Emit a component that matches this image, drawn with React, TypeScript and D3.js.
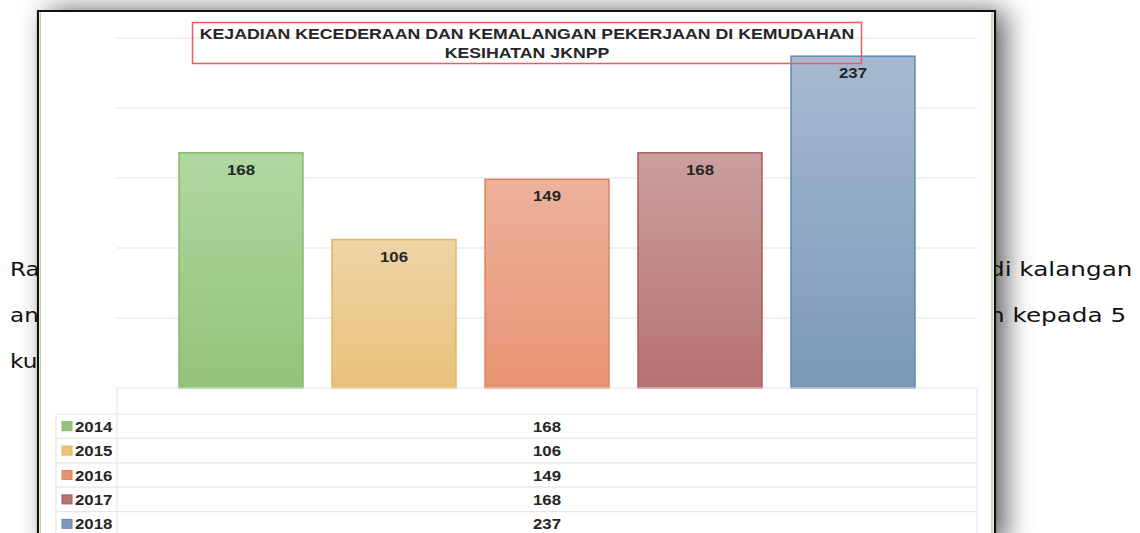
import React from "react";
import * as d3 from "d3";

// chart values
const years = ["2014", "2015", "2016", "2017", "2018"];
const cases = [168, 106, 149, 168, 237];
const yTicks = [0, 50, 100, 150, 200, 250];
const titleLines = [
  "KEJADIAN KECEDERAAN DAN KEMALANGAN PEKERJAAN DI KEMUDAHAN",
  "KESIHATAN JKNPP",
];
// colours per year: [top, bottom, stroke]
const barColors = [
  ["#b1d7a1", "#92c37b", "#84bb6a"],
  ["#eed4a6", "#e9c27b", "#e2b65c"],
  ["#edb29d", "#e89473", "#de835e"],
  ["#cc9f9f", "#b67272", "#a65b5b"],
  ["#a6b9d1", "#7c99b9", "#6487ae"],
];
// page text peeking out round the chart picture
const leftWords = ["Ra", "an", "ku"];
const rightWords = ["di kalangan", "n kepada 5"];

const W = 1140, H = 533;

function Stretch(props: { x: number; y: number; size: number; sx?: number; children: any; anchor?: string; fill?: string; family?: string; weight?: string }) {
  const { x, y, size, sx = 1.26, children, anchor = "middle", fill = "#262626", family = "'Liberation Sans', Arial, sans-serif", weight = "bold" } = props;
  return (
    <text transform={`translate(${x},${y}) scale(${sx},1)`} textAnchor={anchor}
      fontFamily={family} fontWeight={weight} fontSize={size} fill={fill}>
      {children}
    </text>
  );
}

export default function App() {
  const frame = { x: 38, y: 11, r: 995 };
  const plotL = 117, plotR = 977;

  const y = d3.scaleLinear().domain([0, 250]).range([388, 38]);
  const x = d3.scaleBand<string>().domain(years).range([164.5, 929.5]).paddingInner(0.19).paddingOuter(0.095);
  const row = d3.scaleBand<string>().domain(years).range([414, 536]);
  const docFont = "'DejaVu Sans', Verdana, sans-serif";

  return (
    <svg width={W} height={H} style={{ position: "absolute", left: 0, top: 0, background: "#fff" }}>
      <defs>
        <filter id="shadow" x="-20%" y="-20%" width="140%" height="140%">
          <feDropShadow dx={10} dy={0} stdDeviation={14} floodColor="#000" floodOpacity={0.65} />
        </filter>
        {barColors.map((c, i) => (
          <linearGradient key={i} id={`g${i}`} x1="0" y1="0" x2="0" y2="1">
            <stop offset="0%" stopColor={c[0]} />
            <stop offset="100%" stopColor={c[1]} />
          </linearGradient>
        ))}
      </defs>

      {/* drop shadow of the pasted chart */}
      <rect x={frame.x} y={frame.y} width={frame.r - frame.x} height={H} fill="#fff" filter="url(#shadow)" />

      {/* document text behind */}
      {leftWords.map((w, i) => (
        <Stretch key={w} x={10} y={276 + i * 46} size={19} sx={1.22} anchor="start" family={docFont} weight="normal" fill="#111">{w}</Stretch>
      ))}
      {rightWords.map((w, i) => (
        <Stretch key={w} x={989} y={276 + i * 46} size={19} sx={1.3} anchor="start" family={docFont} weight="normal" fill="#111">{w}</Stretch>
      ))}

      {/* chart picture */}
      <rect x={frame.x} y={frame.y} width={frame.r - frame.x} height={H} fill="#fff" />

      {yTicks.slice(1).map(t => (
        <line key={t} x1={plotL} x2={plotR} y1={y(t)} y2={y(t)} stroke="#ececec" strokeWidth={1.5} />
      ))}

      {cases.map((v, i) => {
        const bx = x(years[i])!;
        return (
          <g key={years[i]}>
            <rect x={bx} y={y(v)} width={x.bandwidth()} height={y(0) - y(v)} fill={`url(#g${i})`}
              stroke={barColors[i][2]} strokeWidth={1.5} />
            <Stretch x={bx + x.bandwidth() / 2} y={y(v) + 22} size={15} sx={1.12}>{v}</Stretch>
          </g>
        );
      })}

      {/* data table */}
      <g stroke="#e6e6e6" strokeWidth={1.2}>
        <line x1={plotL} x2={plotR} y1={y(0)} y2={y(0)} />
        <line x1={plotL} x2={plotL} y1={y(0)} y2={H} />
        <line x1={plotR} x2={plotR} y1={y(0)} y2={H} />
        <line x1={56} x2={56} y1={row.range()[0]} y2={H} />
        {years.map(yr => (
          <line key={yr} x1={56} x2={plotR} y1={row(yr)!} y2={row(yr)!} />
        ))}
      </g>
      {years.map((yr, i) => {
        const cy = row(yr)! + row.bandwidth() / 2;
        return (
          <g key={yr}>
            <rect x={62} y={cy - 4.5} width={10} height={9} fill={barColors[i][1]} stroke={barColors[i][2]} strokeWidth={1} />
            <Stretch x={75} y={cy + 5.5} size={15} sx={1.12} anchor="start">{yr}</Stretch>
            <Stretch x={(plotL + plotR) / 2} y={cy + 5.5} size={15} sx={1.12}>{cases[i]}</Stretch>
          </g>
        );
      })}

      {/* title */}
      <rect x={192.5} y={22.5} width={669} height={41} fill="none" stroke="#f05a5a" strokeWidth={1.5} />
      {titleLines.map((t, i) => (
        <Stretch key={t} x={527} y={38.5 + i * 19} size={14.3} sx={1.24}>{t}</Stretch>
      ))}

      {/* frame edges */}
      <line x1={frame.x + 2.5} x2={frame.x + 2.5} y1={frame.y} y2={H} stroke="#b5d69f" strokeWidth={1} />
      <line x1={frame.r - 3} x2={frame.r - 3} y1={frame.y} y2={H} stroke="#b5d69f" strokeWidth={1.5} />
      <path d={`M${frame.x},${H} V${frame.y} H${frame.r} V${H}`} fill="none" stroke="#111" strokeWidth={2.2} />
    </svg>
  );
}
